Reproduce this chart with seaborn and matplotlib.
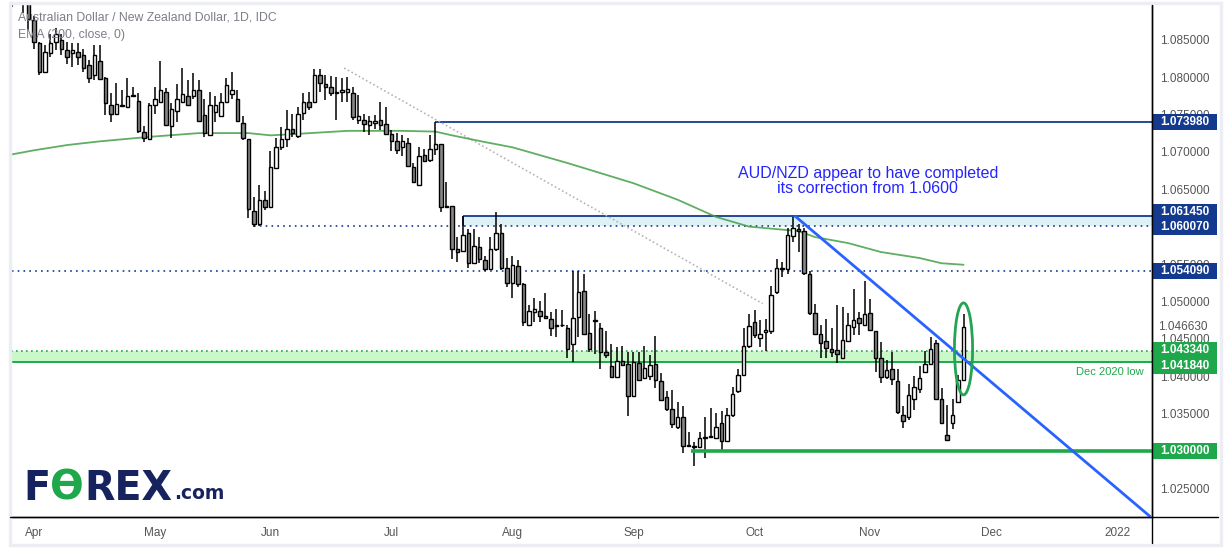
import numpy as np
import pandas as pd
import seaborn as sns
import matplotlib.pyplot as plt
import matplotlib.transforms as mtransforms
from matplotlib.patches import Rectangle, Ellipse
from matplotlib.lines import Line2D

# ---- data (AUD/NZD daily) ----
dates = pd.bdate_range('2021-03-26', '2021-11-24')

open_prices = [
    1.0915, 1.0912, 1.0910, 1.0900,                                          # late Mar
    1.0876, 1.0845, 1.0807, 1.0832, 1.0847, 1.0850, 1.0836, 1.0832, 1.0833, 1.0829,
    1.0816, 1.0803, 1.0821, 1.0798, 1.0763, 1.0751, 1.0762, 1.0760, 1.0774, 1.0768,
    1.0726, 1.0717,                                                          # Apr
    1.0763, 1.0766, 1.0780, 1.0735, 1.0754, 1.0767, 1.0775, 1.0774, 1.0783, 1.0749,
    1.0723, 1.0753, 1.0748, 1.0767, 1.0777, 1.0770, 1.0738, 1.0717, 1.0621, 1.0603,
    1.0636,                                                                  # May
    1.0626, 1.0679, 1.0707, 1.0717, 1.0731, 1.0721, 1.0752, 1.0766, 1.0766, 1.0803,
    1.0791, 1.0786, 1.0780, 1.0780, 1.0780, 1.0778, 1.0742, 1.0743, 1.0736, 1.0738,
    1.0742, 1.0737,                                                          # Jun
    1.0724, 1.0714, 1.0707, 1.0712, 1.0680, 1.0656, 1.0696, 1.0689, 1.0704, 1.0711,
    1.0628, 1.0627, 1.0570, 1.0568, 1.0591, 1.0552, 1.0573, 1.0555, 1.0543, 1.0570,
    1.0591, 1.0544,                                                          # Jul
    1.0525, 1.0547, 1.0523, 1.0469, 1.0486, 1.0487, 1.0480, 1.0477, 1.0467, 1.0469,
    1.0465, 1.0443, 1.0479, 1.0514, 1.0458, 1.0474, 1.0464, 1.0432, 1.0414, 1.0399,
    1.0420, 1.0416,                                                          # Aug
    1.0373, 1.0418, 1.0397, 1.0400, 1.0416, 1.0393, 1.0372, 1.0356, 1.0332, 1.0346,
    1.0308, 1.0307, 1.0306, 1.0318, 1.0319, 1.0318, 1.0338, 1.0314, 1.0348, 1.0380,
    1.0401, 1.0440,                                                          # Sep
    1.0472, 1.0451, 1.0459, 1.0460, 1.0512, 1.0545, 1.0543, 1.0588, 1.0597, 1.0594,
    1.0537, 1.0484, 1.0457, 1.0447, 1.0437, 1.0435, 1.0425, 1.0447, 1.0466, 1.0478,
    1.0469,                                                                  # Oct
    1.0484, 1.0460, 1.0424, 1.0399, 1.0410, 1.0394, 1.0348, 1.0346, 1.0369, 1.0383,
    1.0405, 1.0416, 1.0444, 1.0369, 1.0322, 1.0338, 1.0366, 1.0395,          # Nov
]
high_prices = [
    1.0925, 1.0928, 1.0925, 1.0912,
    1.0881, 1.0847, 1.0843, 1.0858, 1.0865, 1.0858, 1.0847, 1.0845, 1.0845, 1.0838,
    1.0823, 1.0843, 1.0843, 1.0800, 1.0778, 1.0792, 1.0783, 1.0799, 1.0787, 1.0778,
    1.0734, 1.0765,
    1.0786, 1.0821, 1.0785, 1.0765, 1.0791, 1.0812, 1.0796, 1.0805, 1.0796, 1.0771,
    1.0780, 1.0774, 1.0778, 1.0799, 1.0807, 1.0783, 1.0748, 1.0717, 1.0640, 1.0656,
    1.0647,
    1.0701, 1.0718, 1.0733, 1.0756, 1.0751, 1.0760, 1.0778, 1.0780, 1.0811, 1.0811,
    1.0803, 1.0802, 1.0800, 1.0798, 1.0800, 1.0787, 1.0776, 1.0751, 1.0748, 1.0749,
    1.0766, 1.0760,
    1.0729, 1.0725, 1.0722, 1.0718, 1.0685, 1.0707, 1.0704, 1.0722, 1.07398, 1.0711,
    1.0659, 1.0627, 1.0586, 1.06145, 1.0597, 1.0597, 1.0586, 1.0561, 1.0586, 1.0619,
    1.0604, 1.0558,
    1.0561, 1.0556, 1.0524, 1.0495, 1.0504, 1.0500, 1.0511, 1.0486, 1.0490, 1.0489,
    1.0468, 1.0541, 1.0541, 1.0537, 1.0483, 1.0487, 1.0471, 1.0460, 1.0443, 1.0439,
    1.0440, 1.0433,
    1.0433, 1.0433, 1.0441, 1.0429, 1.0454, 1.0404, 1.0380, 1.0381, 1.0366, 1.0360,
    1.0326, 1.0312, 1.0326, 1.0346, 1.0358, 1.0351, 1.0354, 1.0357, 1.0386, 1.0410,
    1.0465, 1.0483,
    1.0489, 1.0475, 1.0477, 1.0521, 1.0557, 1.0553, 1.0598, 1.0613, 1.0604, 1.0598,
    1.0540, 1.0497, 1.0468, 1.0477, 1.0464, 1.0495, 1.0492, 1.0484, 1.0517, 1.0486,
    1.0527,
    1.0503, 1.0461, 1.0446, 1.0422, 1.0433, 1.0410, 1.0360, 1.0390, 1.0400, 1.0413,
    1.0434, 1.0453, 1.0448, 1.0384, 1.0361, 1.0370, 1.0401, 1.0483,
]
low_prices = [
    1.0893, 1.0899, 1.0886, 1.0863,
    1.0837, 1.0803, 1.0805, 1.0827, 1.0836, 1.0829, 1.0818, 1.0814, 1.0816, 1.0807,
    1.0792, 1.0796, 1.0796, 1.0749, 1.0740, 1.0749, 1.0760, 1.0758, 1.0773, 1.0725,
    1.0713, 1.0716,
    1.0751, 1.0765, 1.0734, 1.0718, 1.0740, 1.0765, 1.0763, 1.0770, 1.0740, 1.0720,
    1.0721, 1.0740, 1.0748, 1.0767, 1.0771, 1.0740, 1.0716, 1.0611, 1.0600, 1.0601,
    1.0622,
    1.0626, 1.0679, 1.0702, 1.0706, 1.0720, 1.0719, 1.0743, 1.0756, 1.0766, 1.0780,
    1.0769, 1.0774, 1.0742, 1.0767, 1.0767, 1.0743, 1.0737, 1.0727, 1.0722, 1.0731,
    1.0729, 1.0722,
    1.0701, 1.0697, 1.0694, 1.0680, 1.0658, 1.0656, 1.0686, 1.0687, 1.0696, 1.0619,
    1.0625, 1.0557, 1.0553, 1.0567, 1.0545, 1.0551, 1.0552, 1.0540, 1.0542, 1.0568,
    1.0542, 1.0519,
    1.0505, 1.0519, 1.0467, 1.0468, 1.0473, 1.0473, 1.0477, 1.0454, 1.0453, 1.0466,
    1.0424, 1.0419, 1.0453, 1.0455, 1.0433, 1.0430, 1.0409, 1.0424, 1.0398, 1.0398,
    1.0413, 1.0347,
    1.0372, 1.0393, 1.0396, 1.0395, 1.0384, 1.0367, 1.0354, 1.0331, 1.0330, 1.0297,
    1.0306, 1.0280, 1.0305, 1.0291, 1.0317, 1.0317, 1.0301, 1.0314, 1.0346, 1.0378,
    1.0400, 1.0438,
    1.0451, 1.0439, 1.0434, 1.0457, 1.0510, 1.0533, 1.0537, 1.0579, 1.0566, 1.0535,
    1.0482, 1.0456, 1.0425, 1.0425, 1.0426, 1.0417, 1.0424, 1.0446, 1.0455, 1.0455,
    1.0468,
    1.0460, 1.0406, 1.0391, 1.0396, 1.0388, 1.0350, 1.0331, 1.0341, 1.0355, 1.0377,
    1.0404, 1.0415, 1.0368, 1.0336, 1.0314, 1.0329, 1.0365, 1.0393,
]
close_prices = [
    1.0905, 1.0908, 1.0900, 1.0878,
    1.0847, 1.0807, 1.0834, 1.0845, 1.0858, 1.0837, 1.0827, 1.0836, 1.0827, 1.0812,
    1.0799, 1.0829, 1.0797, 1.0765, 1.0750, 1.0764, 1.0761, 1.0774, 1.0776, 1.0728,
    1.0719, 1.0763,
    1.0771, 1.0783, 1.0736, 1.0757, 1.0771, 1.0777, 1.0763, 1.0783, 1.0741, 1.0725,
    1.0763, 1.0763, 1.0766, 1.0789, 1.0783, 1.0741, 1.0718, 1.0623, 1.0603, 1.0636,
    1.0626,
    1.0680, 1.0706, 1.0717, 1.0731, 1.0725, 1.0750, 1.0767, 1.0760, 1.0803, 1.0792,
    1.0786, 1.0779, 1.0778, 1.0783, 1.0784, 1.0746, 1.0748, 1.0737, 1.0741, 1.0741,
    1.0736, 1.0724,
    1.0714, 1.0703, 1.0714, 1.0681, 1.0659, 1.0695, 1.0688, 1.0704, 1.0710, 1.0626,
    1.0626, 1.0570, 1.0566, 1.0589, 1.0551, 1.0574, 1.0557, 1.0543, 1.0570, 1.0591,
    1.0544, 1.0524,
    1.0549, 1.0523, 1.0473, 1.0487, 1.0490, 1.0480, 1.0478, 1.0464, 1.0468, 1.0468,
    1.0436, 1.0478, 1.0512, 1.0457, 1.0436, 1.0475, 1.0433, 1.0428, 1.0399, 1.0420,
    1.0415, 1.0373,
    1.0419, 1.0395, 1.0411, 1.0415, 1.0395, 1.0368, 1.0356, 1.0336, 1.0346, 1.0307,
    1.0307, 1.0305, 1.0317, 1.0318, 1.0320, 1.0332, 1.0314, 1.0348, 1.0376, 1.0401,
    1.0440, 1.0467,
    1.0455, 1.0457, 1.0462, 1.0509, 1.0545, 1.0543, 1.0589, 1.0598, 1.0594, 1.0538,
    1.0484, 1.0457, 1.0445, 1.0438, 1.0432, 1.0430, 1.0448, 1.0468, 1.0475, 1.0471,
    1.0483,
    1.0462, 1.0424, 1.0399, 1.0408, 1.0396, 1.0352, 1.0340, 1.0375, 1.0385, 1.0398,
    1.0416, 1.0436, 1.0369, 1.0338, 1.0315, 1.0348, 1.0395, 1.04663,
]

# EMA(200) (bar position relative to 1 Apr, value)
ema_pos = [-4.4, 0, 6, 12, 21, 30, 39, 43, 48, 57, 67, 73, 76, 82, 87, 97, 109,
           117, 124, 130, 139, 142, 148, 154, 161, 165, 169]
ema_vals = [1.0696, 1.0702, 1.0709, 1.0714, 1.0720, 1.0725, 1.0725, 1.0722, 1.0724,
            1.0728, 1.0728, 1.0727, 1.0722, 1.0713, 1.0706, 1.0685, 1.0658, 1.0636,
            1.0613, 1.0600, 1.0594, 1.0586, 1.0578, 1.0566, 1.0558, 1.0551, 1.0549]

# drawn levels and lines
level_high = 1.07398
zone_top, zone_bottom = 1.06145, 1.06007
level_mid = 1.05409
band_top, band_bottom = 1.04334, 1.04184
level_low = 1.030
last_price = 1.04663
trend_start = (138.3, 1.06145)
trend_end = (203.0, 1.0212)
old_trend_start = (56.4, 1.0812)
old_trend_end = (132.5, 1.0497)

label_prices = [1.07398, 1.06145, 1.06007, 1.05409, 1.04334, 1.04184, 1.03]
label_kinds = ['navy', 'navy', 'navy', 'navy', 'green', 'green', 'green']
label_shift_px = [0, 4, -1, 0, 1, -4, 0]

month_labels = ['Apr', 'May', 'Jun', 'Jul', 'Aug', 'Sep', 'Oct', 'Nov', 'Dec', '2022']

NAVY = '#133a8f'
GREEN = '#1fa84b'
PX = 7480.0  # pixels per price unit on this chart

# ---- figure ----
sns.set_theme(style='white')
plt.rcParams['font.family'] = ['Liberation Sans', 'DejaVu Sans']

fig = plt.figure(figsize=(12.26, 5.5), dpi=100)
ax = fig.add_axes([10 / 1226, 33 / 550, 1142 / 1226, 512 / 550])

df = pd.DataFrame({'date': dates, 'open': open_prices, 'high': high_prices,
                   'low': low_prices, 'close': close_prices})
df['x'] = np.arange(len(df)) - 4
up = df['close'] >= df['open']

# zones first (behind the candles)
xmax = 203.3
ax.axhspan(band_bottom, band_top, color='#c9f8c9', zorder=1, lw=0)
ax.hlines(band_top, -5, xmax, color=GREEN, lw=1.2, linestyles=(0, (1, 2)), zorder=2)
ax.hlines(band_bottom, -5, xmax, color=GREEN, lw=1.4, zorder=2)
ax.add_patch(Rectangle((78, zone_bottom), xmax - 78, zone_top - zone_bottom,
                       facecolor='#def1f4', edgecolor='none', zorder=1))
ax.hlines(zone_top, 78, xmax, color=NAVY, lw=1.3, zorder=2)
ax.vlines(78, zone_bottom, zone_top, color=NAVY, lw=1.3, zorder=2)
ax.hlines(zone_bottom, 40, xmax, color=NAVY, lw=1.2, linestyles=(0, (1, 2.5)), zorder=2)
ax.hlines(level_mid, -5, xmax, color=NAVY, lw=1.2, linestyles=(0, (1, 2.5)), zorder=2)
ax.hlines(level_high, 73, xmax, color=NAVY, lw=1.3, zorder=2)
ax.plot([old_trend_start[0], old_trend_end[0]], [old_trend_start[1], old_trend_end[1]],
        color='#b5b5b5', lw=1.2, ls=(0, (1, 1.5)), zorder=2)

# EMA
sns.lineplot(x=ema_pos, y=ema_vals, ax=ax, color='#43a047', lw=1.3, alpha=0.85,
             zorder=3, legend=False)

# candles
ax.vlines(df['x'], df['low'], df['high'], color='black', lw=1.1, zorder=4)
body_low = np.minimum(df['open'], df['close'])
body_h = np.maximum((df['close'] - df['open']).abs(), 0.00005)
ax.bar(df['x'], body_h, bottom=body_low, width=0.6,
       color=np.where(up, 'white', '#888888'), edgecolor='black', lw=1.0, zorder=5)

# support + trend lines
ax.hlines(level_low, 119.5, xmax, color=GREEN, lw=2.6, zorder=6)
ax.plot([trend_start[0], trend_end[0]], [trend_start[1], trend_end[1]],
        color='#2962ff', lw=2.0, zorder=6, solid_capstyle='butt')
ax.add_patch(Ellipse((169, 1.04365), 3.3, 0.0123, fill=False, edgecolor='#23a455',
                     lw=2.0, zorder=7))

ax.text(151.6, 1.0661, 'AUD/NZD appear to have completed\nits correction from 1.0600',
        ha='center', va='center', color='#2424ff', fontsize=11.5, linespacing=1.05,
        zorder=8)
ax.text(201.8, 1.0406, 'Dec 2020 low', ha='right', va='center', color=GREEN,
        fontsize=8, zorder=8)

# axes
ax.set_xlim(-4.36, 203.27)
ax.set_ylim(1.030 - 66 / PX, 1.030 + 446 / PX)

cal = pd.bdate_range('2021-03-26', '2022-01-31')
cal_pos = pd.Series(np.arange(len(cal)) - 4, index=cal)
month_pos = cal_pos.groupby([cal.year, cal.month]).first().values[1:]
ax.set_xticks(month_pos)
ax.set_xticklabels(month_labels)
ax.set_yticks(np.arange(1.025, 1.08501, 0.005))
ax.set_yticklabels([f'{v:.6f}' for v in np.arange(1.025, 1.08501, 0.005)])
ax.yaxis.tick_right()
ax.tick_params(axis='y', length=0, pad=6, labelsize=8.5, labelcolor='#555555')
ax.tick_params(axis='x', length=0, pad=7, labelsize=8.5, labelcolor='#555555')
for side in ['top', 'left']:
    ax.spines[side].set_visible(False)
for side in ['right', 'bottom']:
    ax.spines[side].set_color('black')
    ax.spines[side].set_linewidth(1.0)
ax.set_xlabel('')
ax.set_ylabel('')

# price labels on the right scale
trans = mtransforms.blended_transform_factory(ax.transAxes, ax.transData)
ax.text(1.0 + 6 / 1142, last_price, f'{last_price:.6f}', transform=trans, ha='left',
        va='center', color='#555555', fontsize=8.5, clip_on=False, zorder=9,
        bbox=dict(boxstyle='square,pad=0.1', fc='white', ec='none'))
for p, kind, sh in zip(label_prices, label_kinds, label_shift_px):
    yc = p + sh / PX
    col = NAVY if kind == 'navy' else GREEN
    ax.add_patch(Rectangle((1.0008, yc - 8 / PX), 64 / 1142, 16 / PX, transform=trans,
                           facecolor=col, edgecolor='none', clip_on=False, zorder=10))
    ax.text(1.0008 + 32 / 1142, yc, f'{p:.6f}', transform=trans, ha='center',
            va='center', color='white', fontweight='bold', fontsize=8.5,
            clip_on=False, zorder=11)

# extended axis lines and frame
fig.add_artist(Line2D([1152 / 1226, 1152 / 1226], [7 / 550, 545 / 550], color='black', lw=1.0))
fig.add_artist(Line2D([10 / 1226, 1218 / 1226], [33 / 550, 33 / 550], color='black', lw=1.0))
fig.add_artist(Rectangle((9.5 / 1226, 5 / 550), 1211 / 1226, 542 / 550, fill=False,
                         edgecolor='#eceef4', lw=2.5, transform=fig.transFigure))

# header text
fig.text(18 / 1226, 1 - 18 / 550, 'Australian Dollar / New Zealand Dollar, 1D, IDC',
         color='#7b7e88', fontsize=8.8, va='center', ha='left', zorder=20)
fig.text(18 / 1226, 1 - 35 / 550, 'EMA (200, close, 0)',
         color='#7b7e88', fontsize=8.8, va='center', ha='left', zorder=20)

# FOREX.com logo
logo_y = 50 / 550
t1 = fig.text(23 / 1226, logo_y, 'F', color='#16235e', fontsize=28.5, fontweight='bold',
              family='DejaVu Sans', va='baseline')
t2 = plt.annotate('Ɵ', xy=(1, 0), xycoords=t1, color=GREEN, fontsize=28.5,
                  fontweight='bold', family='DejaVu Sans', va='bottom', ha='left')
t3 = plt.annotate('REX', xy=(1, 0), xycoords=t2, color='#16235e', fontsize=28.5,
                  fontweight='bold', family='DejaVu Sans', va='bottom', ha='left')
plt.annotate('.com', xy=(1.03, 0.16), xycoords=t3, color='#16235e', fontsize=13.5,
             fontweight='bold', family='DejaVu Sans', va='bottom', ha='left')

plt.savefig('out.png', dpi=100, facecolor='white')
